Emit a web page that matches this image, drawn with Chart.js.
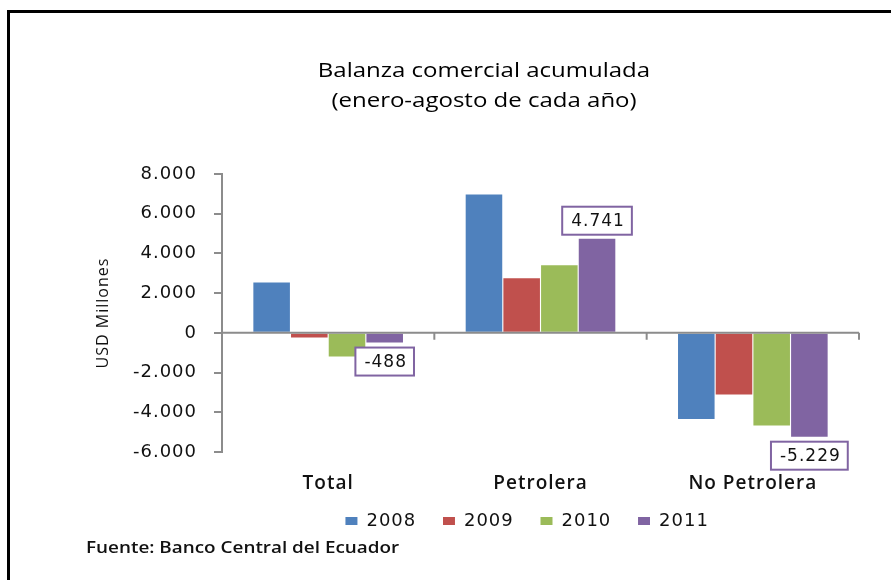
<!DOCTYPE html>
<html>
<head>
<meta charset="utf-8">
<script src="https://cdn.jsdelivr.net/npm/chart.js@4.4.0/dist/chart.umd.min.js"></script>
<style>
  html, body { margin: 0; padding: 0; background: #fff; }
  #frame { position: absolute; left: 7px; top: 10px; width: 900px; height: 600px; border-top: 3px solid #000; border-left: 3px solid #000; }
  #wrap { position: absolute; left: 0; top: 0; width: 891px; height: 580px; }
  #title { position: absolute; left: 234px; width: 500px; top: 55px; text-align: center; font: 20px "Open Sans"; line-height: 30px; color: #000; transform: scaleX(1.2); transform-origin: 250px 0; }
  #source { position: absolute; left: 86px; top: 536px; font: 600 16px "Open Sans"; color: #111; transform: scaleX(1.18); transform-origin: 0 0; white-space: nowrap; }
</style>
</head>
<body>
<div id="frame"></div>
<div id="wrap"><canvas id="c" width="891" height="580"></canvas></div>
<div id="title">Balanza comercial acumulada<br>(enero-agosto de cada año)</div>
<div id="source">Fuente: Banco Central del Ecuador</div>
<script>
const categories = ['Total', 'Petrolera', 'No Petrolera'];
const years = ['2008', '2009', '2010', '2011'];
const v2008 = [2540, 6970, -4340];
const v2009 = [-240, 2750, -3110];
const v2010 = [-1190, 3400, -4670];
const v2011 = [-488, 4741, -5229];
const colors = ['#4F81BD', '#C0504D', '#9BBB59', '#8064A2'];
const yMin = -6000, yMax = 8000, yStep = 2000;

function fmt(v) {
  const s = String(Math.abs(v)).replace(/\B(?=(\d{3})+(?!\d))/g, '.');
  return (v < 0 ? '-' : '') + s;
}

// the source picture has wide lettering
const spacing = {
  id: 'spacing',
  beforeLayout(chart) { chart.ctx.letterSpacing = '1px'; },
  beforeDraw(chart) { chart.ctx.letterSpacing = '1px'; }
};

// zero line with category ticks
const zeroLine = {
  id: 'zeroLine',
  afterDatasetsDraw(chart) {
    const ctx = chart.ctx;
    const xs = chart.scales.x;
    const y0 = chart.scales.y.getPixelForValue(0);
    ctx.save();
    ctx.strokeStyle = '#8c8c8c';
    ctx.lineWidth = 2;
    ctx.beginPath();
    ctx.moveTo(chart.chartArea.left, y0);
    ctx.lineTo(chart.chartArea.right, y0);
    for (let i = 1; i <= categories.length; i++) {
      const x = xs.left + i * xs.width / categories.length;
      ctx.moveTo(x, y0);
      ctx.lineTo(x, y0 + 7);
    }
    ctx.stroke();
    ctx.restore();
  }
};

// boxed value labels on the 2011 bars
const boxLabels = {
  id: 'boxLabels',
  afterDatasetsDraw(chart) {
    const ctx = chart.ctx;
    const meta = chart.getDatasetMeta(3);
    meta.data.forEach((bar, i) => {
      const v = v2011[i];
      const txt = fmt(v);
      ctx.save();
      ctx.font = '17px "DejaVu Sans"';
      const w = ctx.measureText(txt).width + 16, h = 28;
      const x = bar.x - w / 2;
      const y = v >= 0 ? bar.y - 4 - h : bar.y + 5;
      ctx.fillStyle = '#fff';
      ctx.fillRect(x, y, w, h);
      ctx.strokeStyle = '#8064A2';
      ctx.lineWidth = 2;
      ctx.strokeRect(x, y, w, h);
      ctx.fillStyle = '#111';
      ctx.textAlign = 'center';
      ctx.textBaseline = 'middle';
      ctx.fillText(txt, bar.x + 1, y + h / 2 + 1);
      ctx.restore();
    });
  }
};

const series = [v2008, v2009, v2010, v2011];

new Chart(document.getElementById('c'), {
  type: 'bar',
  data: {
    labels: categories,
    datasets: series.map((d, i) => ({
      label: years[i],
      data: d,
      backgroundColor: colors[i],
      categoryPercentage: 0.71,
      barPercentage: 0.97
    }))
  },
  options: {
    responsive: false,
    animation: false,
    layout: { padding: { top: 174, left: 94, right: 32, bottom: 40 } },
    plugins: {
      title: { display: false },
      tooltip: { enabled: false },
      legend: {
        position: 'bottom',
        fullSize: false,
        labels: {
          boxWidth: 12,
          boxHeight: 8,
          padding: 10,
          color: '#111',
          font: { family: 'DejaVu Sans', size: 18 },
          // trailing spaces widen the gap between entries
          generateLabels(chart) {
            const items = Chart.defaults.plugins.legend.labels.generateLabels(chart);
            items.forEach((it, i) => { it.text = it.text + (i < items.length - 1 ? ' \u2002' : '\u2002\u2002 '); });
            return items;
          }
        }
      }
    },
    scales: {
      x: {
        afterFit(scale) { scale.height = 50; },
        grid: { display: false, drawTicks: false },
        border: { display: false },
        ticks: { color: '#111', padding: 20, font: { family: 'Open Sans', size: 19, weight: 600 } }
      },
      y: {
        min: yMin,
        max: yMax,
        afterFit(scale) { scale.width = 128; },
        ticks: {
          stepSize: yStep,
          color: '#111',
          padding: 17,
          font: { family: 'DejaVu Sans', size: 18 },
          callback: v => fmt(v)
        },
        grid: { drawOnChartArea: false, drawTicks: true, tickLength: 8, color: '#8c8c8c', lineWidth: 2 },
        border: { color: '#8c8c8c', width: 2 },
        title: {
          display: true,
          text: 'USD Millones',
          color: '#111',
          padding: { top: 0, bottom: 0 },
          font: { family: 'Open Sans', size: 16 }
        }
      }
    }
  },
  plugins: [spacing, zeroLine, boxLabels]
});
</script>
</body>
</html>
